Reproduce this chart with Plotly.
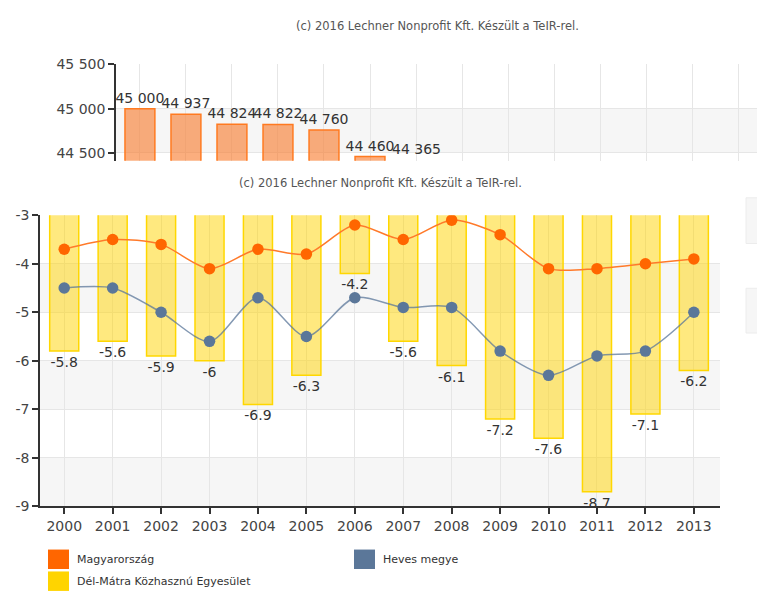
import plotly.graph_objects as go

W, H = 757, 596

years = [str(y) for y in range(2000, 2014)]
magyarorszag = [-3.7, -3.5, -3.6, -4.1, -3.7, -3.8, -3.2, -3.5, -3.1, -3.4, -4.1, -4.1, -4.0, -3.9]
heves = [-4.5, -4.5, -5.0, -5.6, -4.7, -5.5, -4.7, -4.9, -4.9, -5.8, -6.3, -5.9, -5.8, -5.0]
delmatra = [-5.8, -5.6, -5.9, -6.0, -6.9, -6.3, -4.2, -5.6, -6.1, -7.2, -7.6, -8.7, -7.1, -6.2]
y_ticks = [-3, -4, -5, -6, -7, -8, -9]

top_years = years[:7]
top_values = [45000, 44937, 44824, 44822, 44760, 44460, 44365]
top_ticks = [44500, 45000, 45500]
top_range = [44412, 45500]

title_text = "(c) 2016 Lechner Nonprofit Kft. Készült a TeIR-rel."
legend_names = ["Magyarország", "Heves megye", "Dél-Mátra Közhasznú Egyesület"]

FONT = "DejaVu Sans"

def px(x):
    return x / W

def py(y):
    return 1 - y / H

def fmt_thousands(v):
    return f"{v:,}".replace(",", " ")

fig = go.Figure()

# background (partially hidden) chart
fig.add_trace(go.Bar(
    x=top_years, y=top_values, xaxis="x2", yaxis="y2", width=0.65,
    marker=dict(color="rgba(248,120,40,0.6)", line=dict(color="#ff7a20", width=1.5)),
    text=[fmt_thousands(v) for v in top_values], texttemplate="%{text}",
    textposition="outside", constraintext="none", cliponaxis=False,
    textfont=dict(family=FONT, size=14, color="#333333"), showlegend=False,
))

# main chart
fig.add_trace(go.Bar(
    x=years, y=delmatra, width=0.6,
    marker=dict(color="rgba(255,212,0,0.5)", line=dict(color="#ffd700", width=1.5)),
    text=[f"{v:g}" for v in delmatra], texttemplate="%{text}",
    textposition="outside", constraintext="none", cliponaxis=False,
    textfont=dict(family=FONT, size=14, color="#333333"), showlegend=False,
))
fig.add_trace(go.Scatter(
    x=years, y=magyarorszag, mode="lines+markers",
    line=dict(color="#ff7a2a", width=1.5, shape="spline", smoothing=0.8),
    marker=dict(color="#ff6600", size=11.5), showlegend=False,
))
fig.add_trace(go.Scatter(
    x=years, y=heves, mode="lines+markers",
    line=dict(color="rgba(91,119,153,0.75)", width=1.5, shape="spline", smoothing=0.8),
    marker=dict(color="#5b7799", size=11.5), showlegend=False,
))

shapes = []
for a, b in [(-4, -5), (-6, -7), (-8, -9)]:
    shapes.append(dict(type="rect", xref="x domain", yref="y", x0=0, x1=1, y0=a, y1=b,
                       fillcolor="#f6f6f6", line=dict(width=0), layer="below"))
shapes.append(dict(type="rect", xref="x2 domain", yref="y2", x0=0, x1=1, y0=44500, y1=45000,
                   fillcolor="#f6f6f6", line=dict(width=0), layer="below"))
# strip of another chart peeking out on the right edge
for y0, y1 in [(195, 242), (288, 334)]:
    shapes.append(dict(type="rect", xref="paper", yref="paper", x0=px(746), x1=px(760),
                       y0=py(y1), y1=py(y0), fillcolor="#f6f6f6",
                       line=dict(color="#ececec", width=1), layer="below"))

annotations = []
# labels of background bars whose top falls below the visible range (shown at the clip edge)
for i, (xv, v) in enumerate(zip(top_years, top_values)):
    if v < top_range[0]:
        annotations.append(dict(text=fmt_thousands(v), x=i, y=0, xref="x2", yref="y2 domain",
                                xanchor="center", yanchor="bottom", showarrow=False, yshift=2,
                                font=dict(family=FONT, size=14, color="#333333")))

# legend (two columns, square swatches)
legend_items = [
    (legend_names[0], "#ff6600", 48, 566.5),
    (legend_names[1], "#5b7799", 354, 566.5),
    (legend_names[2], "#ffd400", 48, 589),
]
for name, col, lx, ly in legend_items:
    shapes.append(dict(type="rect", xref="paper", yref="paper", x0=px(lx), x1=px(lx + 21),
                       y0=py(ly + 10), y1=py(ly - 10), fillcolor=col, line=dict(width=0)))
    annotations.append(dict(text=name, x=px(lx + 27), y=py(ly), xref="paper", yref="paper",
                            xanchor="left", yanchor="middle", showarrow=False,
                            font=dict(family=FONT, size=11, color="#333333")))

annotations.append(dict(text=title_text, x=px(437), y=py(18), xref="paper", yref="paper",
                        xanchor="center", yanchor="middle", showarrow=False,
                        font=dict(family=FONT, size=11.5, color="#555555")))
annotations.append(dict(text=title_text, x=px(380.5), y=py(180), xref="paper", yref="paper",
                        xanchor="center", yanchor="middle", showarrow=False,
                        font=dict(family=FONT, size=11.5, color="#555555")))

axis_common = dict(showline=True, linecolor="#333333", linewidth=1.5, ticks="outside",
                   ticklen=6, tickcolor="#333333", tickwidth=1.5, showgrid=True,
                   gridcolor="#e6e6e6", gridwidth=1, zeroline=False,
                   tickfont=dict(family=FONT, size=14, color="#444444"))

fig.update_layout(
    width=W, height=H, margin=dict(l=0, r=0, t=0, b=0),
    paper_bgcolor="white", plot_bgcolor="rgba(0,0,0,0)",
    barmode="overlay", showlegend=False, separators=". ",
    xaxis=dict(**axis_common, domain=[px(40), px(720)], anchor="y", type="category",
               categoryorder="array", categoryarray=years, range=[-0.5, 13.54]),
    yaxis=dict(**axis_common, domain=[py(512), py(213)], anchor="x", range=[-9, -3],
               tickvals=y_ticks, ticktext=[str(t) for t in y_ticks]),
    xaxis2=dict(showline=False, showgrid=True, gridcolor="#e6e6e6", showticklabels=False,
                ticks="", zeroline=False, domain=[px(116), 1.0], anchor="y2", type="category",
                categoryorder="array", categoryarray=years, range=[-0.52, 13.41]),
    yaxis2=dict(**axis_common, domain=[py(157), py(58)], anchor="x2", range=top_range,
                tickvals=top_ticks, ticktext=[fmt_thousands(t) for t in top_ticks]),
    shapes=shapes, annotations=annotations,
)

post = (
    "document.body.style.margin='0';document.body.style.overflow='hidden';"
    "var d=document.getElementById('{plot_id}');"
    "d.style.position='fixed';d.style.left='0px';d.style.top='0px';"
)

fig.write_html("out.html", config={"displayModeBar": False}, post_script=post)
